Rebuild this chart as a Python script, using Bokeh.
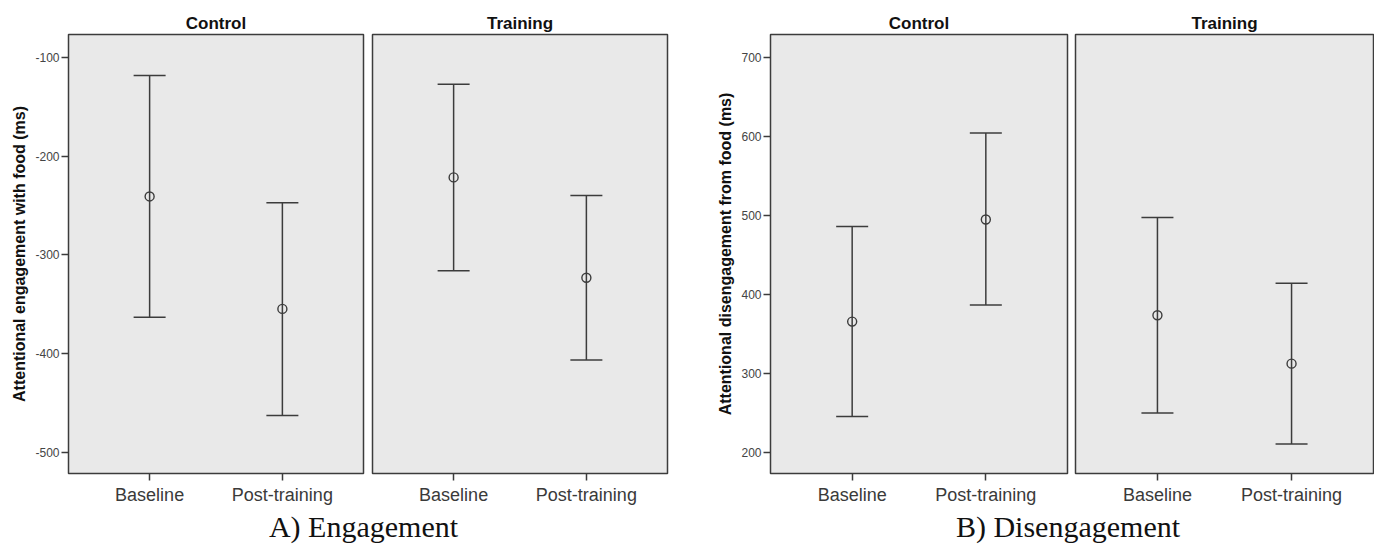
from bokeh.plotting import figure
from bokeh.models import (ColumnDataSource, Whisker, TeeHead, FactorRange, Range1d,
                          FixedTicker, Div)
from bokeh.layouts import row, column
from bokeh.embed import file_html
from bokeh.resources import INLINE

# ---------------- data ----------------
times = ["Baseline", "Post-training"]
groups = ["Control", "Training"]

eng_ctrl_mean = [-240.7, -354.6]
eng_ctrl_upper = [-118.3, -247.1]
eng_ctrl_lower = [-363.1, -462.5]
eng_train_mean = [-221.4, -323.1]
eng_train_upper = [-127.1, -239.7]
eng_train_lower = [-316.0, -406.3]

dis_ctrl_mean = [365.6, 494.8]
dis_ctrl_upper = [485.9, 604.1]
dis_ctrl_lower = [245.6, 386.7]
dis_train_mean = [373.6, 312.4]
dis_train_upper = [497.3, 414.1]
dis_train_lower = [249.9, 210.6]

eng_ticks = [-500, -400, -300, -200, -100]
dis_ticks = [200, 300, 400, 500, 600, 700]

eng_ylabel = "Attentional engagement with food (ms)"
dis_ylabel = "Attentional disengagement from food (ms)"
caption_a = "A) Engagement"
caption_b = "B) Disengagement"

# ---------------- style ----------------
DARK = "#3c3c3c"
BG = "#e9e9e9"
SANS = "Liberation Sans"


def panel(title, mean, upper, lower, y_range, ticks, width, bl, br, ylabel=None):
    p = figure(x_range=FactorRange(factors=times, range_padding=0.111),
               y_range=y_range, width=width, height=507,
               output_backend="svg", toolbar_location=None,
               y_axis_location="left" if ylabel else None,
               min_border_left=bl, min_border_right=br,
               min_border_top=34, min_border_bottom=34)
    p.title.text = title
    p.title.align = "center"
    p.title.text_font = SANS
    p.title.text_font_size = "17px"
    p.title.text_font_style = "bold"
    p.title.text_color = "#111111"
    p.title.standoff = 3
    p.background_fill_color = BG
    p.border_fill_color = "white"
    p.outline_line_color = DARK
    p.outline_line_width = 1.5
    p.xgrid.visible = False
    p.ygrid.visible = False

    xa = p.xaxis[0]
    xa.axis_line_color = None
    xa.major_tick_line_color = DARK
    xa.major_tick_line_width = 1.5
    xa.major_tick_out = 7
    xa.major_tick_in = 0
    xa.minor_tick_line_color = None
    xa.major_label_text_font = SANS
    xa.major_label_text_font_size = "18px"
    xa.major_label_text_color = "#3a3a3a"
    xa.major_label_standoff = 4

    if ylabel:
        ya = p.yaxis[0]
        ya.ticker = FixedTicker(ticks=ticks)
        ya.major_label_overrides = {t: str(t) for t in ticks}
        ya.axis_line_color = None
        ya.major_tick_line_color = DARK
        ya.major_tick_line_width = 1.5
        ya.major_tick_out = 7
        ya.major_tick_in = 0
        ya.minor_tick_line_color = None
        ya.major_label_text_font = SANS
        ya.major_label_text_font_size = "12px"
        ya.major_label_text_color = "#444444"
        ya.major_label_standoff = 2
        ya.axis_label = ylabel
        ya.axis_label_text_font = SANS
        ya.axis_label_text_font_size = "16px"
        ya.axis_label_text_font_style = "bold"
        ya.axis_label_text_color = "#111111"
        ya.axis_label_standoff = 4

    src = ColumnDataSource(dict(t=times, mean=mean, upper=upper, lower=lower))
    w = Whisker(source=src, base="t", upper="upper", lower="lower",
                dimension="height", line_color=DARK, line_width=1.5,
                upper_head=TeeHead(size=32, line_color=DARK, line_width=1.5),
                lower_head=TeeHead(size=32, line_color=DARK, line_width=1.5))
    p.add_layout(w)
    p.scatter("t", "mean", source=src, marker="circle", size=9,
              fill_alpha=0, line_color=DARK, line_width=1.4)
    return p


eng_range = Range1d(-521.3, -76.7)
dis_range = Range1d(173.4, 728.8)

f1 = panel(groups[0], eng_ctrl_mean, eng_ctrl_upper, eng_ctrl_lower, eng_range,
           eng_ticks, 367, 68, 4, eng_ylabel)
f2 = panel(groups[1], eng_train_mean, eng_train_upper, eng_train_lower, eng_range,
           eng_ticks, 303, 5, 3)
f3 = panel(groups[0], dis_ctrl_mean, dis_ctrl_upper, dis_ctrl_lower, dis_range,
           dis_ticks, 401, 100, 4, dis_ylabel)
f4 = panel(groups[1], dis_train_mean, dis_train_upper, dis_train_lower, dis_range,
           dis_ticks, 303, 4, 1)

cap_style = "position:absolute;top:0;text-align:center;white-space:nowrap;"
cap_html = (
    '<div style="position:relative;width:1374px;height:39px;'
    "font-family:'Liberation Serif',serif;font-size:30px;line-height:39px;color:#111;\">"
    f'<span style="{cap_style}left:0;width:727px;">{caption_a}</span>'
    f'<span style="{cap_style}left:769px;width:598px;">{caption_b}</span>'
    '</div>'
)
cap = Div(text=cap_html, width=1374, height=39, margin=0)

layout = column(row(f1, f2, f3, f4, spacing=0), cap, spacing=0)

open("out.html", "w").write(file_html(layout, INLINE))
